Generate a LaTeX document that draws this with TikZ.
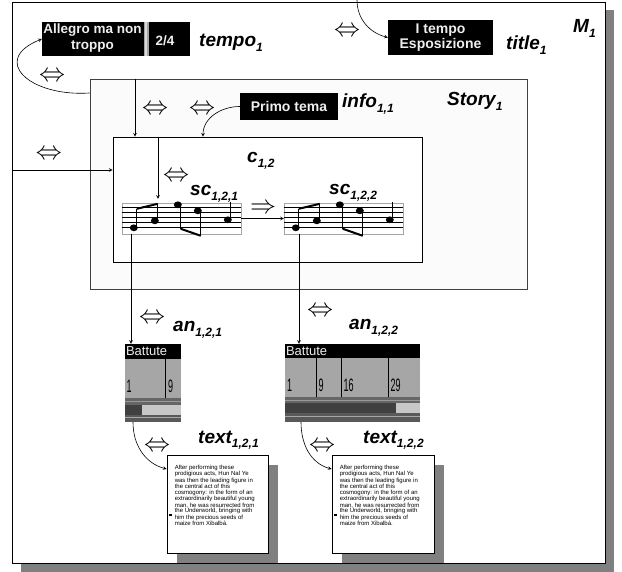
\documentclass[tikz,border=0pt]{standalone}
\usepackage{fontspec}
\setmainfont{Liberation Sans}
\newfontfamily\etroit[FakeStretch=0.5]{Liberation Sans}
\usepackage{tikz}
\definecolor{ombre}{HTML}{808080}
\definecolor{fond}{HTML}{FBFBFB}
\definecolor{gris}{HTML}{A6A6A6}
\definecolor{clair}{HTML}{EEEEEE}
\usetikzlibrary{shadows,calc}

\newcommand{\lbl}[2]{{\fontsize{19}{19}\selectfont\bfseries\itshape #1\raisebox{-5pt}{\fontsize{12}{12}\selectfont #2}}}
\newcommand{\equi}{\resizebox{26pt}{!}{$\Leftrightarrow$}}
\newcommand{\recit}{After performing these\\prodigious acts, Hun Nal Ye\\was then the leading figure in\\the central act of this\\cosmogony: in the form of an\\extraordinarily beautiful young\\man, he was resurrected from\\the Underworld, bringing with\\him the precious seeds of\\maize from Xibalb\'a.}

\tikzset{
  cadre/.style={draw=black, fill=white, line width=0.8pt, inner sep=0pt},
  ombree/.style={drop shadow={shadow xshift=#1, shadow yshift=-#1, fill=ombre, opacity=1}},
  bandeau/.style={fill=black, text=clair, inner sep=0pt, align=center,
    font=\fontsize{13.5}{16}\selectfont\bfseries},
  lien/.style={->, >=stealth, line width=0.6pt},
  portee/.style={draw=gris, fill=white, inner sep=0pt, minimum width=119pt, minimum height=31pt},
  nom/.style={inner sep=0pt, anchor=base west},
  equiv/.style={inner sep=0pt},
  texte/.style={inner sep=0pt, anchor=north west, align=left, font=\fontsize{6}{5.3}\selectfont}
}

\begin{document}
\begin{tikzpicture}[x=1pt,y=1pt]
\useasboundingbox (0,0) rectangle (622,-572);

% cadres
\node[cadre, ombree=8.5pt, minimum width=593pt, minimum height=561pt] (m1) at (308.5,-282.5) {};
\node[draw=black!75, fill=fond, line width=0.8pt, inner sep=0pt,
  minimum width=437pt, minimum height=210pt] (story) at (308.5,-184) {};
\node[cadre, minimum width=309pt, minimum height=125pt] (c) at (267.5,-199.5) {};

% bandeaux
\node[bandeau, minimum width=148pt, minimum height=34pt] (tempo) at (116,-39) {};
\node[bandeau] (allegro) at (92.5,-38) {Allegro ma non\\troppo};
\node[bandeau] (mesure) at (165,-41) {2/4};
\fill[gris] (143.5,-22) rectangle (148.5,-56);
\fill[white!85!black] (145,-22) rectangle (146.5,-56);
\node[bandeau, font=\fontsize{14}{15}\selectfont\bfseries,
  minimum width=105pt, minimum height=35pt] (title) at (440.5,-37.5) {I tempo\\Esposizione};
\node[bandeau, font=\fontsize{14}{15}\selectfont\bfseries,
  minimum width=98pt, minimum height=27pt] (info) at (289,-106.5) {Primo tema};

% portees
\node[portee] (sc1) at (181.5,-218.5) {};
\node[portee] (sc2) at (343.5,-218.5) {};
\foreach \p in {sc1,sc2}
{
  \begin{scope}[shift={(\p.north west)}]
    \foreach \l in {5,10,15,20,25}
      \draw[line width=0.6pt] (0,-\l) -- (119,-\l);
    \fill (12,-25) ellipse (4 and 3.4);
    \fill (33,-18) ellipse (4 and 3.4);
    \fill (56,-2) ellipse (4 and 3.4);
    \fill (76,-8) ellipse (4 and 3.4);
    \fill (106,-17) ellipse (4 and 3.4);
    \draw[line width=0.9pt] (15,-25) -- (15,-6);
    \draw[line width=0.9pt] (36,-18) -- (36,-1);
    \draw[line width=0.9pt] (59,-2) -- (59,-26);
    \draw[line width=0.9pt] (79,-8) -- (79,-33);
    \draw[line width=0.9pt] (109,-17) -- (109,1);
    \draw[line width=2pt] (15,-6) -- (36,-1);
    \draw[line width=2pt] (59,-26) -- (79,-33);
  \end{scope}
}

% annotations
\node[inner sep=0pt, minimum width=56pt, minimum height=78pt] (an1) at (153,-383) {};
\begin{scope}[shift={(an1.north west)}]
  \fill[gris] (0,0) rectangle (56,-78);
  \fill[black] (0,0) rectangle (56,-15);
  \node[inner sep=0pt, anchor=west, text=clair, font=\fontsize{13}{13}\selectfont] at (1,-7.5) {Battute};
  \draw[line width=1pt] (41,-15) -- (41,-54);
  \node[nom, font=\etroit\fontsize{18}{18}\selectfont] at (1.5,-49) {1};
  \node[nom, font=\etroit\fontsize{18}{18}\selectfont] at (43,-49) {9};
  \fill[black!60] (0,-54) rectangle (56,-61);
  \fill[black!40] (0,-57) rectangle (56,-58);
  \fill[black!75] (0,-61) rectangle (17.5,-71);
  \fill[black!22] (17.5,-61) rectangle (56,-71);
  \fill[black!65] (0,-71) rectangle (56,-78);
  \fill[black!35] (0,-73.5) rectangle (56,-74.5);
\end{scope}

\node[inner sep=0pt, minimum width=135pt, minimum height=78pt] (an2) at (352.5,-383) {};
\begin{scope}[shift={(an2.north west)}]
  \fill[gris] (0,0) rectangle (135,-78);
  \fill[black] (0,0) rectangle (135,-14);
  \node[inner sep=0pt, anchor=west, text=clair, font=\fontsize{13}{13}\selectfont] at (1,-7) {Battute};
  \foreach \d in {32,57,104}
    \draw[line width=1pt] (\d,-14) -- (\d,-53);
  \foreach \d/\n in {2/1,33.5/9,58.5/16,105.5/29}
    \node[nom, font=\etroit\fontsize{18}{18}\selectfont] at (\d,-48) {\n};
  \fill[black!60] (0,-53) rectangle (135,-59);
  \fill[black!40] (0,-56) rectangle (135,-57);
  \fill[black!75] (0,-59) rectangle (111,-69);
  \fill[black!22] (111,-59) rectangle (135,-69);
  \fill[black!65] (0,-69) rectangle (135,-78);
  \fill[black!35] (0,-72) rectangle (135,-73);
\end{scope}

% textes
\node[cadre, ombree=9.5pt, minimum width=101pt, minimum height=98pt] (text1) at (217.5,-504) {};
\node[texte] (recit1) at ([shift={(8,-10)}]text1.north west) {\recit};
\fill (text1.north west) ++(2.5,-59) rectangle ++(3,-2.5);
\node[cadre, ombree=9.5pt, minimum width=102pt, minimum height=98pt] (text2) at (383,-504) {};
\node[texte] (recit2) at ([shift={(8,-10)}]text2.north west) {\recit};
\fill (text2.north west) ++(2.5,-59) rectangle ++(3,-2.5);

% etiquettes
\node[nom] (lm1) at (573,-33) {\lbl{M}{1}};
\node[nom] (ltempo) at (199,-47) {\lbl{tempo}{1}};
\node[nom] (ltitle) at (506,-50) {\lbl{title}{1}};
\node[nom] (linfo) at (342,-108) {\lbl{info}{1,1}};
\node[nom] (lstory) at (447,-106) {\lbl{Story}{1}};
\node[nom] (lc) at (247,-163) {\lbl{c}{1,2}};
\node[nom] (lsc1) at (190,-196) {\lbl{sc}{1,2,1}};
\node[nom] (lsc2) at (329,-195) {\lbl{sc}{1,2,2}};
\node[nom] (lan1) at (173,-332) {\lbl{an}{1,2,1}};
\node[nom] (lan2) at (349,-330) {\lbl{an}{1,2,2}};
\node[nom] (ltext1) at (198,-443) {\lbl{text}{1,2,1}};
\node[nom] (ltext2) at (363,-443) {\lbl{text}{1,2,2}};

% equivalences
\node[equiv] (e1) at (52,-77) {\equi};
\node[equiv] (e2) at (155,-110) {\equi};
\node[equiv] (e3) at (202,-110) {\equi};
\node[equiv] (e4) at (49,-155) {\equi};
\node[equiv] (e5) at (176,-177) {\equi};
\node[equiv] (e6) at (347,-32) {\equi};
\node[equiv] (e7) at (152,-319) {\equi};
\node[equiv] (e8) at (320,-312) {\equi};
\node[equiv] (e9) at (157,-447) {\equi};
\node[equiv] (e10) at (322,-447) {\equi};
\node[equiv] (e11) at (263,-209) {\resizebox{26pt}{!}{$\Rightarrow$}};

% liens
\coordinate (haut) at (357,0);
\coordinate (xa) at (135,0);
\coordinate (xb) at (203,0);
\coordinate (xc) at (158,0);
\coordinate (xd) at (131,0);
\coordinate (xe) at (299,0);
\coordinate (xf) at (133,0);
\coordinate (xg) at (301,0);
\coordinate (ya) at (0,-93);
\coordinate (yb) at (0,-170);
\coordinate (yc) at (0,-469);

\draw[lien] (haut) to[out=-90,in=165] (title.west);
\draw[lien] (story.west |- ya) .. controls +(-60,-4) and +(-52,-21) .. (tempo.west);
\draw[lien] (story.north -| xa) -- (c.north -| xa);
\draw[lien] (info.west) to[out=180,in=90] (c.north -| xb);
\draw[lien] (m1.west |- yb) -- (c.west |- yb);
\draw[lien, shorten >=4pt] (c.north -| xc) -- (sc1.north -| xc);
\draw[lien] (sc1.east) -- (sc2.west);
\draw[lien] (sc1.south -| xd) -- (an1.north -| xd);
\draw[lien] (sc2.south -| xe) -- (an2.north -| xe);
\draw[lien] (an1.south -| xf) to[out=-90,in=165] (text1.west |- yc);
\draw[lien] (an2.south -| xg) to[out=-90,in=165] (text2.west |- yc);
\end{tikzpicture}
\end{document}
